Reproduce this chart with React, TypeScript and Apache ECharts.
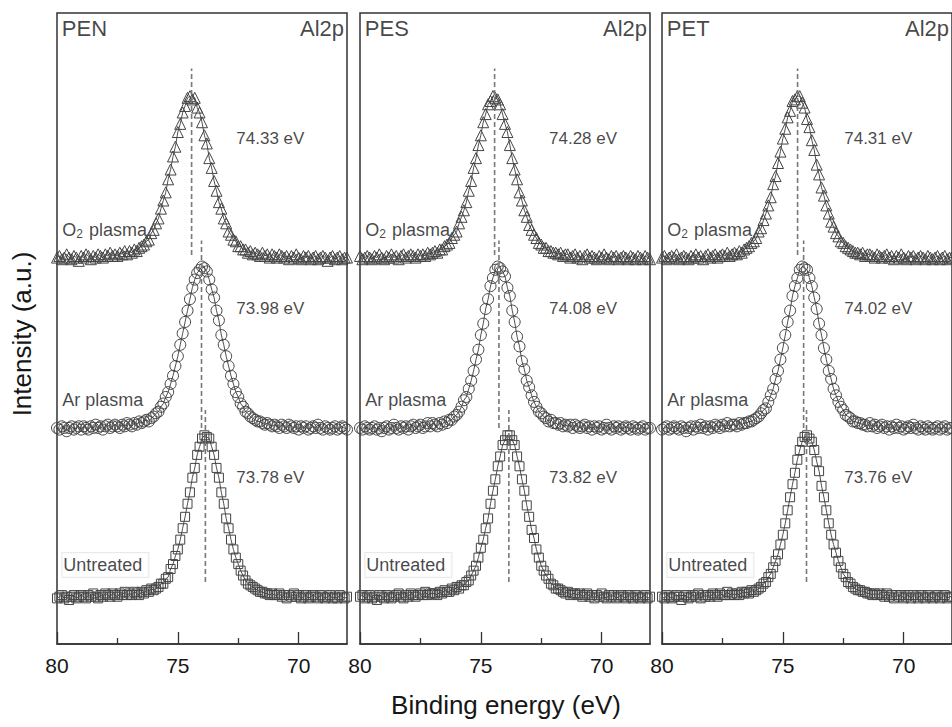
import React, { useEffect, useRef } from 'react';
import * as echarts from 'echarts';

// Energy grid of the spectra: 80.0 eV down to 68.0 eV in 0.1 eV steps
const ENERGY_START = 80;
const ENERGY_STEP = 0.1;

// Normalised Al2p intensities (peak = 100)
const PEN_O2 = [1, 2, 0, 1, 3, 1, 0, 2, 1, -1, 2, 1, 3, 2, 0, 2, 1, 3, 2, 1, 3, 2, 4, 2, 3, 2, 4, 3, 5, 3, 5, 4, 6, 5, 7, 8, 9, 11, 12, 16, 18, 22, 25, 31, 36, 41, 49, 55, 63, 69, 78, 83, 90, 94, 99, 100, 98, 99, 93, 90, 84, 76, 71, 62, 56, 48, 42, 35, 31, 25, 22, 17, 15, 12, 11, 8, 8, 6, 6, 4, 5, 3, 4, 3, 2, 4, 2, 3, 1, 3, 2, 1, 3, 2, 1, 2, 0, 2, 1, 3, 1, 0, 2, 1, 2, 0, 1, 2, 0, 1, 2, 1, -1, 1, 2, 0, 1, 2, 0, 1, 1];
const PEN_AR = [1, 0, 2, 1, -1, 1, 2, 0, 1, 2, 0, 2, 1, 0, 2, 1, 3, 1, 2, 0, 2, 3, 1, 2, 3, 2, 1, 3, 2, 4, 3, 2, 4, 3, 5, 4, 5, 6, 5, 7, 8, 10, 11, 14, 16, 20, 23, 28, 33, 39, 45, 52, 59, 66, 73, 80, 87, 92, 96, 98, 100, 99, 97, 92, 86, 81, 73, 67, 58, 52, 45, 39, 33, 28, 23, 20, 16, 14, 11, 10, 8, 7, 6, 5, 5, 4, 3, 4, 3, 2, 3, 2, 1, 3, 2, 1, 3, 2, 1, 2, 0, 2, 1, 2, 0, 1, 2, 1, 3, 1, 0, 2, 1, 0, 1, 2, 0, 1, 2, 1, 0];
const PEN_UN = [0, 1, 2, 0, 1, -1, 1, 2, 0, 1, 2, 1, 0, 2, 1, 3, 1, 0, 2, 1, 3, 2, 1, 3, 2, 1, 3, 2, 4, 2, 3, 2, 4, 3, 2, 4, 3, 5, 4, 6, 5, 6, 7, 9, 9, 12, 13, 18, 21, 26, 30, 36, 43, 50, 58, 65, 74, 80, 88, 93, 98, 100, 99, 98, 93, 88, 80, 74, 65, 58, 49, 43, 36, 30, 25, 21, 17, 14, 11, 9, 8, 7, 6, 5, 4, 4, 3, 3, 2, 3, 2, 2, 3, 1, 2, 0, 2, 1, 3, 1, 2, 0, 1, 2, 0, 1, 2, 1, 0, 2, 1, 0, 1, 2, 0, 1, 0, 2, 1, 0, 1];
const PES_O2 = [2, 0, 1, 2, 1, 0, 2, 1, 3, 1, 0, 2, 1, 3, 1, 2, 0, 2, 3, 1, 2, 3, 2, 1, 3, 2, 3, 2, 4, 3, 4, 5, 4, 6, 6, 8, 9, 10, 13, 15, 17, 22, 26, 30, 35, 42, 48, 56, 62, 70, 76, 84, 89, 95, 97, 100, 99, 98, 95, 89, 83, 78, 70, 62, 55, 49, 41, 36, 30, 26, 21, 18, 15, 13, 10, 9, 7, 7, 5, 5, 4, 4, 3, 4, 2, 3, 3, 1, 2, 3, 1, 2, 0, 2, 3, 1, 2, 1, 0, 2, 1, 3, 1, 0, 2, 1, 2, 0, 1, 2, 1, 0, 2, 1, 0, 2, 1, 0, 2, 1, 0];
const PES_AR = [1, 0, 2, 1, 0, 1, 2, 0, 1, -1, 1, 2, 0, 1, 3, 1, 0, 2, 1, 2, 0, 2, 3, 1, 2, 3, 1, 2, 4, 2, 4, 3, 2, 4, 3, 5, 4, 6, 6, 8, 9, 11, 14, 18, 20, 25, 30, 36, 43, 49, 58, 65, 74, 80, 88, 93, 98, 100, 99, 97, 94, 87, 82, 73, 66, 57, 51, 42, 37, 30, 26, 21, 17, 14, 11, 10, 8, 7, 5, 6, 4, 4, 3, 4, 2, 3, 2, 3, 1, 3, 2, 1, 2, 3, 1, 2, 0, 2, 1, 2, 0, 1, 3, 1, 0, 2, 1, 2, 0, 1, 2, 1, 0, 2, 1, 0, 1, 2, 0, 1, 1];
const PES_UN = [1, 2, 0, 1, 2, 0, 1, -1, 2, 1, 0, 2, 1, 0, 1, 2, 3, 1, 0, 2, 1, 3, 2, 1, 2, 3, 2, 4, 2, 3, 3, 3, 2, 4, 3, 5, 4, 4, 6, 5, 7, 6, 8, 8, 10, 11, 14, 17, 20, 25, 31, 36, 43, 49, 58, 66, 73, 81, 87, 94, 97, 100, 100, 97, 94, 87, 81, 73, 66, 57, 50, 42, 37, 30, 25, 20, 17, 14, 12, 9, 8, 6, 6, 5, 4, 3, 4, 2, 3, 3, 2, 3, 1, 2, 3, 1, 2, 0, 2, 1, 3, 1, 0, 2, 1, 2, 0, 1, 2, 1, 0, 2, 1, 0, 2, 1, 0, 1, 2, 0, 1];
const PET_O2 = [1, 2, 0, 1, 2, 1, 3, 0, 1, 2, 1, 0, 2, 1, 3, 1, 2, 0, 2, 3, 1, 2, 3, 1, 2, 3, 2, 4, 2, 3, 4, 3, 5, 4, 6, 7, 8, 10, 11, 13, 17, 19, 24, 28, 33, 38, 46, 51, 59, 66, 74, 80, 87, 91, 97, 98, 100, 100, 96, 93, 86, 81, 73, 67, 58, 52, 44, 39, 33, 28, 23, 20, 16, 14, 11, 10, 8, 7, 6, 5, 4, 4, 3, 4, 2, 3, 3, 2, 1, 3, 2, 1, 2, 3, 1, 2, 0, 2, 1, 3, 1, 0, 2, 1, 2, 0, 1, 2, 1, 0, 2, 1, 0, 1, 2, 0, 1, 2, 0, 1, 1];
const PET_AR = [0, 1, 2, 0, 1, 2, 1, 0, 2, 1, -1, 1, 2, 0, 2, 1, 3, 1, 2, 0, 2, 1, 3, 2, 1, 3, 2, 4, 2, 3, 3, 2, 4, 3, 4, 4, 5, 5, 6, 7, 8, 10, 12, 13, 17, 21, 25, 31, 36, 43, 50, 58, 66, 73, 82, 88, 93, 98, 100, 99, 98, 93, 88, 81, 74, 65, 58, 50, 43, 36, 31, 25, 21, 17, 14, 12, 9, 8, 7, 5, 5, 4, 4, 3, 3, 2, 4, 2, 3, 1, 2, 3, 1, 2, 0, 2, 1, 3, 1, 2, 0, 1, 2, 1, 3, 1, 0, 2, 1, 0, 2, 1, 0, 1, 2, 0, 1, 2, 0, 1, 1];
const PET_UN = [1, 0, 2, 1, 0, 1, 2, 1, -1, 1, 2, 0, 1, 2, 1, 3, 0, 2, 1, 2, 1, 3, 2, 1, 3, 2, 2, 4, 2, 3, 2, 3, 2, 4, 3, 4, 3, 5, 4, 5, 6, 7, 9, 10, 13, 15, 19, 23, 27, 33, 39, 46, 54, 62, 70, 77, 85, 91, 96, 99, 100, 98, 96, 91, 84, 78, 69, 62, 54, 46, 39, 33, 28, 23, 19, 15, 13, 10, 9, 7, 6, 5, 5, 4, 4, 3, 3, 2, 3, 2, 3, 2, 1, 3, 1, 2, 0, 2, 1, 2, 0, 1, 2, 0, 2, 1, 0, 2, 1, 0, 2, 1, 0, 1, 2, 0, 1, 2, 0, 1, 1];

const PANELS = ['PEN', 'PES', 'PET'];
const CORE_LEVEL = 'Al2p';
const TREATMENTS = ['O2 plasma', 'Ar plasma', 'Untreated'];
const SPECTRA = [
  [PEN_O2, PEN_AR, PEN_UN],
  [PES_O2, PES_AR, PES_UN],
  [PET_O2, PET_AR, PET_UN],
];
const PEAK_LABELS = [
  ['74.33 eV', '73.98 eV', '73.78 eV'],
  ['74.28 eV', '74.08 eV', '73.82 eV'],
  ['74.31 eV', '74.02 eV', '73.76 eV'],
];
// positions of the dashed peak markers (eV)
const PEAK_POS = [
  [74.43, 74.02, 73.86],
  [74.43, 74.25, 73.84],
  [74.39, 74.14, 74.02],
];
const X_TICKS = [80, 75, 70];
const X_MINOR_TICKS = [77.5, 72.5];
const X_MIN = 68;
const X_MAX = 80;

// vertical stacking of the three spectra and annotation placement (data units)
const OFFSETS = [208, 103.5, 0];
const DASH_RANGE = [[2.6, 117], [1, 116], [10, 115.5]];
const NAME_DY = [18, 18, 20.5];
const EV_LABEL_DY = 74;
const EV_LABEL_X = [72.6, 72.2, 72.48];
const TITLE_Y = 349.5;
const Y_MIN = -28;
const Y_MAX = 359;

const GRID_LEFT = [57, 360, 662];
const GRID_TOP = 13;
const GRID_W = 290;
const GRID_H = 631;

const SYMBOLS = ['triangle', 'circle', 'rect'];
const SYMBOL_SIZES = [11, 11, 9];
const FONT = '"Liberation Sans", Arial, Helvetica, sans-serif';
const INK = '#161616';

function buildOption() {
  const grids: any[] = [];
  const xAxes: any[] = [];
  const yAxes: any[] = [];
  const series: any[] = [];

  PANELS.forEach((panel, p) => {
    grids.push({
      left: GRID_LEFT[p],
      top: GRID_TOP,
      width: GRID_W,
      height: GRID_H,
      show: true,
      borderColor: '#333',
      borderWidth: 1.5,
      backgroundColor: 'transparent',
    });
    xAxes.push({
      type: 'value',
      gridIndex: p,
      min: X_MIN,
      max: X_MAX,
      inverse: true,
      position: 'bottom',
      axisLine: { show: true, onZero: false, lineStyle: { color: '#333', width: 1.5 } },
      axisTick: { show: true, inside: true, length: 12, customValues: X_TICKS, lineStyle: { color: '#333', width: 1.3 } },
      axisLabel: {
        show: true,
        customValues: X_TICKS,
        fontSize: 21,
        fontFamily: FONT,
        color: INK,
        margin: 11,
        showMinLabel: true,
        showMaxLabel: true,
      },
      splitLine: { show: false },
    });
    xAxes.push({
      type: 'value',
      gridIndex: p,
      min: X_MIN,
      max: X_MAX,
      inverse: true,
      position: 'bottom',
      axisLine: { show: false, onZero: false },
      axisTick: { show: true, inside: true, length: 6, customValues: X_MINOR_TICKS, lineStyle: { color: '#333', width: 1.3 } },
      axisLabel: { show: false },
      splitLine: { show: false },
    });
    yAxes.push({
      type: 'value',
      gridIndex: p,
      min: Y_MIN,
      max: Y_MAX,
      show: false,
      splitLine: { show: false },
    });

    TREATMENTS.forEach((tr, t) => {
      const vals = SPECTRA[p][t];
      series.push({
        name: `${panel} ${tr}`,
        type: 'line',
        xAxisIndex: 2 * p,
        yAxisIndex: p,
        data: vals.map((v, i) => [+(ENERGY_START - i * ENERGY_STEP).toFixed(1), v + OFFSETS[t]]),
        symbol: SYMBOLS[t],
        symbolSize: SYMBOL_SIZES[t],
        showSymbol: true,
        showAllSymbol: true,
        lineStyle: { color: '#222', width: 0.8 },
        itemStyle: { color: 'rgba(255,255,255,0)', borderColor: '#444', borderWidth: 1 },
        silent: true,
        z: 2,
      });
    });

    TREATMENTS.forEach((tr, t) => {
      series.push({
        type: 'line',
        xAxisIndex: 2 * p,
        yAxisIndex: p,
        data: [
          [PEAK_POS[p][t], OFFSETS[t] + DASH_RANGE[t][0]],
          [PEAK_POS[p][t], OFFSETS[t] + DASH_RANGE[t][1]],
        ],
        symbol: 'none',
        lineStyle: { color: '#777', width: 1.6, type: [5, 3] },
        silent: true,
        z: 3,
      });
    });

    const textBase = { fontFamily: FONT, color: INK };
    const items: any[] = [];
    items.push({
      value: [X_MAX - 0.18, TITLE_Y],
      label: { show: true, position: 'right', distance: 0, formatter: panel, fontSize: 22, ...textBase },
    });
    items.push({
      value: [X_MIN + 0.1, TITLE_Y],
      label: { show: true, position: 'left', distance: 0, formatter: CORE_LEVEL, fontSize: 22, ...textBase },
    });
    TREATMENTS.forEach((tr, t) => {
      const lbl: any = { show: true, position: 'right', distance: 0, fontSize: 18, ...textBase };
      if (t === 0) {
        lbl.formatter = '{n|O}{s|2}{n| plasma}';
        lbl.rich = {
          n: { fontSize: 18, fontFamily: FONT, color: INK },
          s: { fontSize: 12, fontFamily: FONT, color: INK, padding: [9, 1, 0, 0] },
        };
      } else {
        lbl.formatter = tr;
      }
      if (t === 2) {
        lbl.backgroundColor = '#fff';
        lbl.borderColor = '#e4e4e4';
        lbl.borderWidth = 1;
        lbl.padding = [3, 6, 3, 1];
      }
      items.push({ value: [X_MAX - 0.2, OFFSETS[t] + NAME_DY[t]], label: lbl });
      items.push({
        value: [EV_LABEL_X[p], OFFSETS[t] + EV_LABEL_DY],
        label: { show: true, position: 'right', distance: 0, formatter: PEAK_LABELS[p][t], fontSize: 17, ...textBase },
      });
    });
    series.push({
      type: 'scatter',
      xAxisIndex: 2 * p,
      yAxisIndex: p,
      symbol: 'circle',
      symbolSize: 1,
      itemStyle: { color: 'rgba(0,0,0,0)' },
      data: items,
      silent: true,
      z: 5,
    });
  });

  return {
    animation: false,
    backgroundColor: '#fff',
    grid: grids,
    xAxis: xAxes,
    yAxis: yAxes,
    series,
    graphic: [
      {
        type: 'text',
        x: 506,
        y: 705,
        style: {
          text: 'Binding energy (eV)',
          fontSize: 26,
          fontFamily: FONT,
          fill: INK,
          textAlign: 'center',
          textVerticalAlign: 'middle',
          align: 'center',
          verticalAlign: 'middle',
        },
      },
      {
        type: 'text',
        x: 22,
        y: 334,
        rotation: Math.PI / 2,
        style: {
          text: 'Intensity (a.u.)',
          fontSize: 26,
          fontFamily: FONT,
          fill: INK,
          textAlign: 'center',
          textVerticalAlign: 'middle',
          align: 'center',
          verticalAlign: 'middle',
        },
      },
    ],
  };
}

export default function App() {
  const ref = useRef<HTMLDivElement>(null);
  useEffect(() => {
    if (!ref.current) return;
    const chart = echarts.init(ref.current, undefined, { renderer: 'svg' });
    chart.setOption(buildOption() as any);
    return () => chart.dispose();
  }, []);
  return (
    <div
      ref={ref}
      style={{ position: 'fixed', left: 0, top: 0, width: 952, height: 727, background: '#fff' }}
    />
  );
}
